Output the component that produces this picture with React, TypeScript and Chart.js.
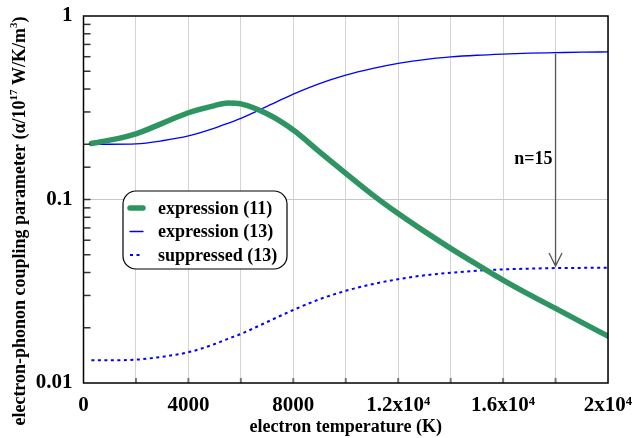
import React, { useEffect, useRef } from "react";
import { Chart, registerables } from "chart.js";

Chart.register(...registerables);

const temperatures = [300, 1000, 2000, 3000, 4000, 5000, 5500, 6000, 7000, 8000, 9000, 10000, 11000, 12000, 13000, 14000, 15000, 16000, 17000, 18000, 19000, 20000];
const expression11 = [0.202, 0.2105, 0.228, 0.26, 0.297, 0.325, 0.336, 0.332, 0.293, 0.239, 0.182, 0.139, 0.1067, 0.0838, 0.067, 0.0542, 0.0443, 0.0364, 0.0303, 0.0255, 0.0214, 0.018];
const expression13 = [0.2, 0.2, 0.201, 0.209, 0.222, 0.245, 0.26, 0.277, 0.322, 0.375, 0.428, 0.476, 0.517, 0.552, 0.579, 0.598, 0.611, 0.62, 0.627, 0.631, 0.635, 0.637];
const suppressed13 = [0.0133, 0.0133, 0.0134, 0.0139, 0.0147, 0.0163, 0.0174, 0.0185, 0.0215, 0.025, 0.0286, 0.0318, 0.0345, 0.0368, 0.0386, 0.0399, 0.0409, 0.0416, 0.042, 0.0423, 0.0424, 0.0425];
const seriesLabels = ["expression (11)", "expression (13)", "suppressed (13)"];

const xTickLabels: Record<number, string> = { 0: "0", 4000: "4000", 8000: "8000", 12000: "1.2x10⁴", 16000: "1.6x10⁴", 20000: "2x10⁴" };
const yTickValues = [0.01, 0.1, 1];
const yTickLabels = ["0.01", "0.1", "1"];

const xTitle = "electron temperature (K)";
// y title pieces: [text, isSuperscript]
const yTitleParts: [string, boolean][] = [
  ["electron-phonon coupling parameter (α/10", false],
  ["17", true],
  [" W/K/m", false],
  ["3", true],
  [")", false],
];

const arrowTemperature = 18000;
const arrowLabel = "n=15";
const arrowLabelValue = 0.166;

const FONT = "'Liberation Serif', 'Times New Roman', serif";
const GREEN = "#2e9462";
const BLUE = "#0000ff";

function yLabelFor(v: number): string {
  for (let i = 0; i < yTickValues.length; i++) {
    if (Math.abs(v - yTickValues[i]) < yTickValues[i] * 1e-6) return yTickLabels[i];
  }
  return "";
}

const decorPlugin = {
  id: "decor",
  afterDatasetsDraw(chart: any) {
    const { ctx, chartArea: a, scales } = chart;
    const x = scales.x;
    const y = scales.y;
    ctx.save();

    // inward minor ticks on the left axis
    ctx.strokeStyle = "#333";
    ctx.lineWidth = 1.5;
    y.ticks.forEach((t: any) => {
      const py = y.getPixelForValue(t.value);
      if (py <= a.top + 1 || py >= a.bottom - 1) return;
      ctx.beginPath();
      ctx.moveTo(a.left, py);
      ctx.lineTo(a.left + 7, py);
      ctx.stroke();
    });

    // inward ticks on the bottom axis
    ctx.strokeStyle = "#777";
    ctx.lineWidth = 2;
    x.ticks.forEach((t: any) => {
      const px = x.getPixelForValue(t.value);
      if (px <= a.left + 1 || px >= a.right - 1) return;
      ctx.beginPath();
      ctx.moveTo(px, a.bottom);
      ctx.lineTo(px, a.bottom - 5);
      ctx.stroke();
    });

    // frame
    ctx.strokeStyle = "#000";
    ctx.lineWidth = 1.5;
    ctx.strokeRect(a.left, a.top, a.right - a.left, a.bottom - a.top);

    // arrow
    const idx = temperatures.indexOf(arrowTemperature);
    const ax = x.getPixelForValue(arrowTemperature);
    const y0 = y.getPixelForValue(expression13[idx]);
    const y1 = y.getPixelForValue(suppressed13[idx]);
    ctx.strokeStyle = "#555";
    ctx.lineWidth = 1.3;
    ctx.beginPath();
    ctx.moveTo(ax, y0 + 1);
    ctx.lineTo(ax, y1 - 2);
    ctx.moveTo(ax - 6.5, y1 - 15);
    ctx.lineTo(ax, y1 - 2);
    ctx.lineTo(ax + 6.5, y1 - 15);
    ctx.stroke();

    ctx.fillStyle = "#000";
    ctx.font = `bold 18px ${FONT}`;
    ctx.textAlign = "right";
    ctx.textBaseline = "middle";
    ctx.fillText(arrowLabel, ax - 3, y.getPixelForValue(arrowLabelValue));

    // legend
    const lx = a.left + 39.5;
    const ly = a.top + 175;
    const lw = 164;
    const lh = 78;
    ctx.beginPath();
    ctx.roundRect(lx, ly, lw, lh, 13);
    ctx.fillStyle = "#fff";
    ctx.fill();
    ctx.strokeStyle = "#000";
    ctx.lineWidth = 1.2;
    ctx.stroke();

    chart.data.datasets.forEach((ds: any, i: number) => {
      const ry = ly + 17 + i * 23.5;
      ctx.save();
      ctx.strokeStyle = ds.borderColor;
      ctx.lineWidth = ds.borderWidth;
      ctx.lineCap = ds.borderDash && ds.borderDash.length ? "butt" : "round";
      ctx.setLineDash(ds.borderDash || []);
      ctx.beginPath();
      ctx.moveTo(lx + 7, ry);
      ctx.lineTo(lx + 20, ry);
      ctx.stroke();
      ctx.restore();
      ctx.fillStyle = "#000";
      ctx.font = `bold 18px ${FONT}`;
      ctx.textAlign = "left";
      ctx.textBaseline = "middle";
      ctx.fillText(ds.label, lx + 35, ry + 1);
    });

    ctx.restore();
  },
  afterDraw(chart: any) {
    const { ctx, chartArea: a } = chart;
    ctx.save();
    ctx.fillStyle = "#000";

    // x axis title
    ctx.font = `bold 18px ${FONT}`;
    ctx.textAlign = "center";
    ctx.textBaseline = "alphabetic";
    ctx.fillText(xTitle, (a.left + a.right) / 2, 432);

    // y axis title with superscripts
    const normalFont = `bold 18px ${FONT}`;
    const supFont = `bold 11px ${FONT}`;
    let total = 0;
    const widths = yTitleParts.map(([txt, sup]) => {
      ctx.font = sup ? supFont : normalFont;
      const w = ctx.measureText(txt).width;
      total += w;
      return w;
    });
    ctx.translate(25, 221);
    ctx.rotate(-Math.PI / 2);
    ctx.textAlign = "left";
    let cx = -total / 2;
    yTitleParts.forEach(([txt, sup], i) => {
      ctx.font = sup ? supFont : normalFont;
      ctx.fillText(txt, cx, sup ? -8 : 0);
      cx += widths[i];
    });
    ctx.restore();
  },
};

export default function App() {
  const canvasRef = useRef<HTMLCanvasElement | null>(null);

  useEffect(() => {
    if (!canvasRef.current) return;
    const mk = (vals: number[]) => temperatures.map((t, i) => ({ x: t, y: vals[i] }));
    const chart = new Chart(canvasRef.current, {
      type: "line",
      data: {
        datasets: [
          {
            label: seriesLabels[0],
            data: mk(expression11),
            borderColor: GREEN,
            borderWidth: 5.5,
            pointRadius: 0,
            cubicInterpolationMode: "monotone",
            borderCapStyle: "round",
          },
          {
            label: seriesLabels[1],
            data: mk(expression13),
            borderColor: BLUE,
            borderWidth: 1.3,
            pointRadius: 0,
            cubicInterpolationMode: "monotone",
          },
          {
            label: seriesLabels[2],
            data: mk(suppressed13),
            borderColor: BLUE,
            borderWidth: 2,
            borderDash: [3, 3.5],
            pointRadius: 0,
            cubicInterpolationMode: "monotone",
          },
        ],
      },
      options: {
        animation: false,
        responsive: false,
        layout: { padding: { top: 16, right: 25, left: 0, bottom: 0 } },
        plugins: { legend: { display: false }, tooltip: { enabled: false } },
        scales: {
          x: {
            type: "linear",
            min: 0,
            max: 20000,
            afterFit: (s: any) => {
              s.height = 55;
              s.paddingLeft = 0;
              s.paddingRight = 0;
            },
            border: { display: false },
            grid: { color: "#d4d4d4", lineWidth: 1, drawTicks: false },
            ticks: {
              stepSize: 2000,
              autoSkip: false,
              maxRotation: 0,
              padding: 10,
              color: "#000",
              font: { family: FONT, size: 21, weight: "bold" },
              callback: (v: any) => xTickLabels[Number(v)] ?? "",
            },
            title: { display: false },
          },
          y: {
            type: "logarithmic",
            min: 0.01,
            max: 1,
            afterFit: (s: any) => {
              s.width = 83.5;
              s.paddingTop = 0;
              s.paddingBottom = 0;
            },
            border: { display: false },
            grid: {
              drawTicks: false,
              lineWidth: 1,
              color: (c: any) => {
                const v = c.tick ? c.tick.value : 0;
                return Math.abs(v - 0.1) < 1e-9 ? "#c8c8c8" : "rgba(0,0,0,0)";
              },
            },
            ticks: {
              autoSkip: false,
              padding: 11,
              color: "#000",
              font: { family: FONT, size: 21, weight: "bold" },
              callback: (v: any) => yLabelFor(Number(v)),
            },
            title: { display: false },
          },
        },
      },
      plugins: [decorPlugin],
    } as any);
    return () => chart.destroy();
  }, []);

  return (
    <div style={{ position: "absolute", left: 0, top: 0, width: 633, height: 438, background: "#fff" }}>
      <canvas ref={canvasRef} width={633} height={438} style={{ display: "block" }} />
    </div>
  );
}
